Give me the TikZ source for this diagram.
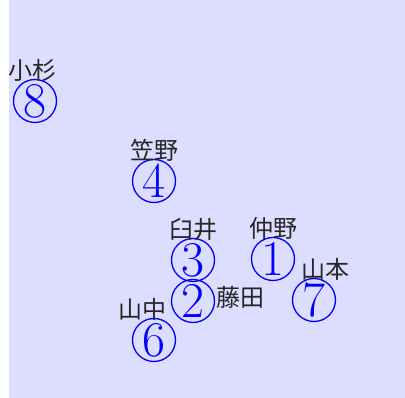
\documentclass[tikz,border=0pt]{standalone}
\usepackage{fontspec}
\newfontfamily\jpfont{Noto Sans CJK JP}
\usetikzlibrary{positioning}
\definecolor{bgblue}{RGB}{221,221,255}

\begin{document}
\begin{tikzpicture}[x=1pt, y=-1pt,
  member/.style={draw=blue, text=blue, circle, line width=1.3pt, minimum size=43pt, inner sep=0pt, font=\fontsize{50}{50}\selectfont},
  namelabel/.style={font=\jpfont\fontsize{24}{24}\selectfont, text=black!85, inner sep=0pt}
]
  \useasboundingbox (0,0) rectangle (405,398);
  \fill[bgblue] (9,0) rectangle (405,398);

  % members
  \node[member] (n8) at (35,101) {8};
  \node[member] (n4) at (154,181) {4};
  \node[member] (n3) at (193,260) {3};
  \node[member] (n1) at (273,259) {1};
  \node[member] (n2) at (193,301) {2};
  \node[member] (n7) at (314,300) {7};
  \node[member] (n6) at (154,340) {6};

  % names
  \node[namelabel, above=-3pt of n8, xshift=-2pt] (l8) {小杉};
  \node[namelabel, above=-3pt of n4] (l4) {笠野};
  \node[namelabel, above=-3pt of n3] (l3) {臼井};
  \node[namelabel, above=-3pt of n1] (l1) {仲野};
  \node[namelabel, above=-3pt of n7, xshift=11pt] (l7) {山本};
  \node[namelabel, right=1pt of n2, yshift=4pt] (l2) {藤田};
  \node[namelabel, above=-3pt of n6, xshift=-12pt] (l6) {山中};
\end{tikzpicture}
\end{document}
